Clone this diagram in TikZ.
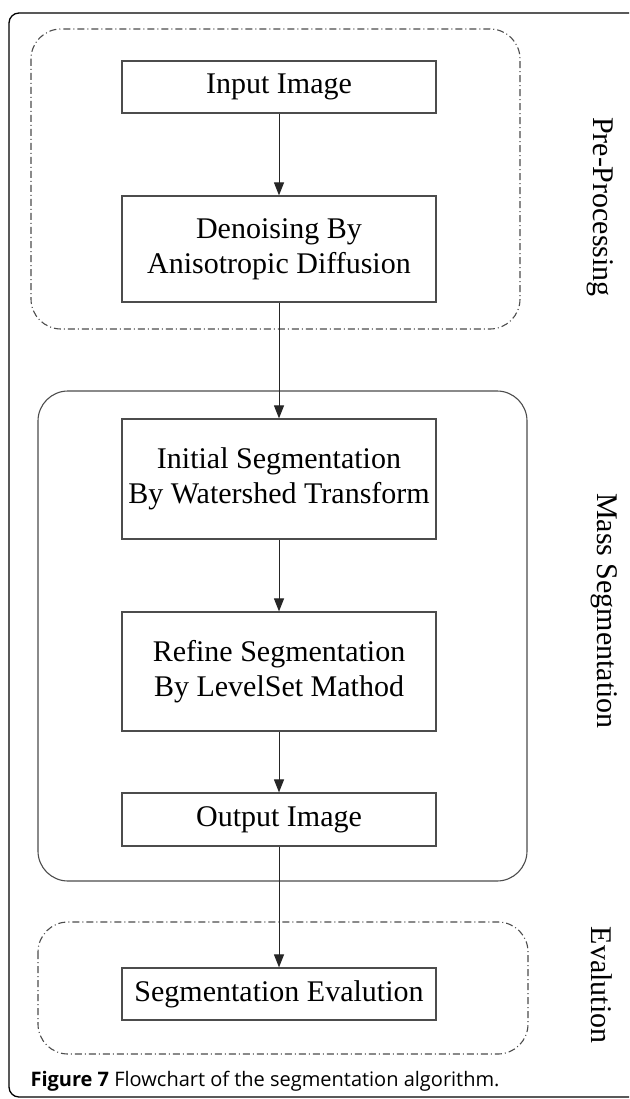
\documentclass[tikz,border=0pt]{standalone}
\usepackage{fontspec}
\setmainfont{Liberation Serif}
\newfontfamily\capfont{Open Sans}
\usepackage{tikz}
\usetikzlibrary{positioning, arrows.meta}

\begin{document}
\begin{tikzpicture}[x=1pt, y=-1pt,
	stepbox/.style={draw=black!70, line width=1.2pt, minimum width=314pt, inner sep=0pt, align=center, font=\fontsize{30}{35}\selectfont},
	grp/.style={draw=black!70, line width=1.1pt, rounded corners=30pt},
	dashgrp/.style={grp, dash pattern=on 7pt off 3pt on 1pt off 3pt},
	side/.style={rotate=-90, font=\fontsize{30}{34}\selectfont},
	flow/.style={-{Triangle[length=13pt,width=10pt]}, draw=black!85, line width=1pt}]
	\useasboundingbox (0,0) rectangle (629,1099);
	\clip (0,0) rectangle (629,1099);
	
	% frame of the figure
	\draw [line width=1.3pt, rounded corners=10pt] (9,13) rectangle (640,1097);
	
	% stages
	\draw [dashgrp] (31,29) rectangle (520,329);
	\draw [grp] (38,391) rectangle (527,881);
	\draw [dashgrp] (38,922) rectangle (528,1054);
	
	\node [side] (lpre) at (600,207) {Pre-Processing};
	\node [side] (lmass) at (604,611) {Mass Segmentation};
	\node [side] (leva) at (602,985) {Evalution};
	
	% steps
	\node [stepbox, minimum height=52pt] (input) at (279,87) {Input Image};
	\node [stepbox, minimum height=106pt] (denoise) at (279,249) {Denoising By\\Anisotropic Diffusion};
	\node [stepbox, minimum height=120pt] (initial) at (279,479) {Initial Segmentation\\By Watershed Transform};
	\node [stepbox, minimum height=119pt] (refine) at (279,671.5) {Refine Segmentation\\By LevelSet Mathod};
	\node [stepbox, minimum height=53pt] (output) at (279,819.5) {Output Image};
	\node [stepbox, minimum height=52pt] (evalbox) at (279,994) {Segmentation Evalution};
	
	\draw [flow] (input) -- (denoise);
	\draw [flow] (denoise) -- (initial);
	\draw [flow] (initial) -- (refine);
	\draw [flow] (refine) -- (output);
	\draw [flow] (output) -- (evalbox);
	
	\node [anchor=base west, font=\capfont\fontsize{20}{22}\selectfont] (caption) at (27,1086) {\textbf{Figure 7} Flowchart of the segmentation algorithm.};
\end{tikzpicture}
\end{document}
